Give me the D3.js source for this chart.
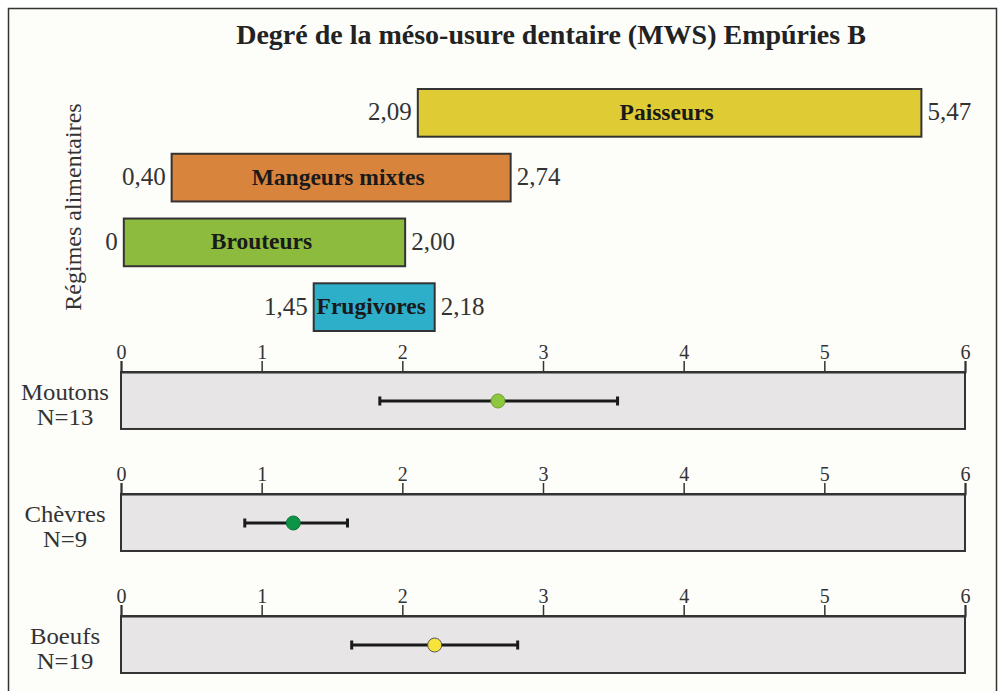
<!DOCTYPE html>
<html><head><meta charset="utf-8">
<script src="https://cdn.jsdelivr.net/npm/d3@7/dist/d3.min.js"></script>
<style>html,body{margin:0;padding:0;background:#fff;}svg{display:block;}</style>
</head><body>
<svg id="chart" width="999" height="691"></svg>
<script>
// ---- data ----
const titleText = "Degré de la méso-usure dentaire (MWS) Empúries B";
const yAxisTitle = "Régimes alimentaires";
const regimes = ["Paisseurs", "Mangeurs mixtes", "Brouteurs", "Frugivores"];
const barStart = [2.11, 0.36, 0.02, 1.37];
const barEnd = [5.69, 2.77, 2.02, 2.23];
const lowLabels = ["2,09", "0,40", "0", "1,45"];
const highLabels = ["5,47", "2,74", "2,00", "2,18"];
const regimeColors = ["#DFCB33", "#D9843D", "#8DBB3E", "#2DAFCA"];

const species = ["Moutons", "Chèvres", "Boeufs"];
const nLabels = ["N=13", "N=9", "N=19"];
const means = [2.68, 1.225, 2.23];
const mins = [1.84, 0.88, 1.64];
const maxs = [3.53, 1.61, 2.82];
const dotColors = ["#8DC63F", "#0E9447", "#F7E43A"];
const tickValues = [0, 1, 2, 3, 4, 5, 6];

// ---- drawing ----
const svg = d3.select("#chart");
const serif = "'Liberation Serif', 'Times New Roman', serif";

svg.append("rect").attr("x", 8.5).attr("y", 8.5).attr("width", 988).attr("height", 700)
  .attr("fill", "#FDFDFA").attr("stroke", "#333").attr("stroke-width", 1.5);

svg.append("text").attr("x", 551).attr("y", 44).attr("text-anchor", "middle")
  .attr("font-family", serif).attr("font-weight", "bold").attr("font-size", 28)
  .attr("fill", "#222").text(titleText);

const x = d3.scaleLinear().domain([0, 6]).range([121, 965]);

// Regime bars
const yBar = d3.scaleBand().domain(regimes).range([89, 331]).paddingInner(0.2635).paddingOuter(0);
const gBars = svg.append("g");
regimes.forEach((r, i) => {
  const y0 = yBar(r), h = yBar.bandwidth(), cy = y0 + h / 2;
  gBars.append("rect").attr("x", x(barStart[i])).attr("y", y0)
    .attr("width", x(barEnd[i]) - x(barStart[i])).attr("height", h)
    .attr("fill", regimeColors[i]).attr("stroke", "#333").attr("stroke-width", 2);
  gBars.append("text").attr("x", (x(barStart[i]) + x(barEnd[i])) / 2 - 3).attr("y", cy).attr("dy", "0.3em")
    .attr("text-anchor", "middle").attr("font-family", serif).attr("font-weight", "bold")
    .attr("font-size", 23.5).attr("fill", "#1a1a1a").text(r);
  gBars.append("text").attr("x", x(barStart[i]) - 6).attr("y", cy).attr("dy", "0.3em")
    .attr("text-anchor", "end").attr("font-family", serif).attr("font-size", 25)
    .attr("fill", "#333").text(lowLabels[i]);
  gBars.append("text").attr("x", x(barEnd[i]) + 6).attr("y", cy).attr("dy", "0.3em")
    .attr("text-anchor", "start").attr("font-family", serif).attr("font-size", 25)
    .attr("fill", "#333").text(highLabels[i]);
});

svg.append("text").attr("transform", "translate(81,207) rotate(-90)")
  .attr("text-anchor", "middle").attr("font-family", serif).attr("font-size", 24)
  .attr("fill", "#333").text(yAxisTitle);

// Species panels
const yPanel = d3.scaleBand().domain(species).range([372, 673]).paddingInner(0.533).paddingOuter(0);
species.forEach((s, i) => {
  const top = yPanel(s), h = yPanel.bandwidth(), cy = top + h / 2 + 0.5;
  const g = svg.append("g");
  g.append("rect").attr("x", x(0)).attr("y", top).attr("width", x(6) - x(0)).attr("height", h)
    .attr("fill", "#E7E5E5").attr("stroke", "#333").attr("stroke-width", 2);
  const ax = g.append("g").attr("transform", `translate(0,${top})`)
    .call(d3.axisTop(x).tickValues(tickValues).tickSize(11).tickPadding(2).tickFormat(d3.format("d")));
  ax.select(".domain").attr("stroke", "#333").attr("stroke-width", 2);
  ax.selectAll(".tick line").attr("stroke", "#333").attr("stroke-width", 1.5);
  ax.selectAll(".tick text").attr("font-family", serif).attr("font-size", 20).attr("fill", "#333");

  g.append("line").attr("x1", x(mins[i])).attr("x2", x(maxs[i])).attr("y1", cy).attr("y2", cy)
    .attr("stroke", "#1a1a1a").attr("stroke-width", 3);
  [mins[i], maxs[i]].forEach(v => {
    g.append("line").attr("x1", x(v)).attr("x2", x(v)).attr("y1", cy - 4.5).attr("y2", cy + 4.5)
      .attr("stroke", "#1a1a1a").attr("stroke-width", 3);
  });
  g.append("circle").attr("cx", x(means[i])).attr("cy", cy).attr("r", 7)
    .attr("fill", dotColors[i]).attr("stroke", i === 2 ? "#555" : d3.color(dotColors[i]).darker(0.6)).attr("stroke-width", 1);

  g.append("text").attr("transform", `translate(65,${top + 27.5}) scale(1.1,1)`).attr("text-anchor", "middle")
    .attr("font-family", serif).attr("font-size", 22.5).attr("fill", "#333").text(s);
  g.append("text").attr("transform", `translate(65,${top + 53}) scale(1.1,1)`).attr("text-anchor", "middle")
    .attr("font-family", serif).attr("font-size", 22.5).attr("fill", "#333").text(nLabels[i]);
});
</script>
</body></html>
